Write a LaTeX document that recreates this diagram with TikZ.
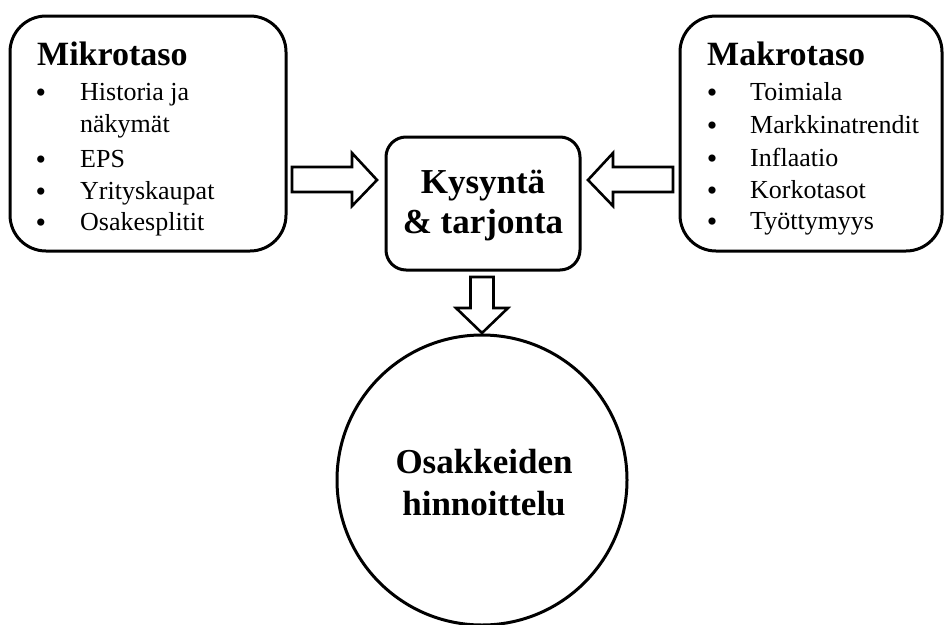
\documentclass[tikz,border=0pt]{standalone}
\usepackage{fontspec}
\setmainfont{Liberation Serif}
\begin{document}
\begin{tikzpicture}[x=1pt,y=-1pt,
  box/.style={draw,line width=3pt,rounded corners=36pt,inner sep=0pt},
  cbox/.style={draw,line width=3pt,rounded corners=20pt,inner sep=0pt,minimum width=194pt,minimum height=133pt},
  ring/.style={draw,line width=3pt,circle,inner sep=0pt,minimum size=290pt},
  blk/.style={draw,line width=2.6pt,fill=white,line join=miter},
  ttl/.style={font=\fontsize{34}{40}\selectfont\bfseries,inner sep=0pt,anchor=base west},
  ctl/.style={font=\fontsize{35}{40}\selectfont\bfseries,inner sep=0pt,anchor=base},
  itm/.style={font=\fontsize{26}{32}\selectfont,inner sep=0pt,anchor=base west},
  bul/.style={font=\fontsize{30}{32}\selectfont,inner sep=0pt,anchor=base}]
\useasboundingbox (0,0) rectangle (945,624);
% boxes
\node[box,minimum width=276pt,minimum height=235pt] (L) at (148,133.5) {};
\node[box,minimum width=262pt,minimum height=235pt] (R) at (811,133.5) {};
\node[cbox] (C) at (483,203.5) {};
\node[ring] (O) at (482,480) {};
% left texts
\node[ttl] (lt) at (37,65) {Mikrotaso};
\node[bul] (lb1) at (41,102) {•};
\node[itm] (l1) at (80,100) {Historia ja};
\node[itm] (l1b) at (80,132) {näkymät};
\node[bul] (lb2) at (41,169) {•};
\node[itm] (l2) at (80,167) {EPS};
\node[bul] (lb3) at (41,201) {•};
\node[itm] (l3) at (80,199) {Yrityskaupat};
\node[bul] (lb4) at (41,232) {•};
\node[itm] (l4) at (80,230) {Osakesplitit};
% right texts
\node[ttl] (rt) at (707,65) {Makrotaso};
\node[bul] (rb1) at (712,102) {•};
\node[itm] (r1) at (750,100) {Toimiala};
\node[bul] (rb2) at (712,135) {•};
\node[itm] (r2) at (750,133) {Markkinatrendit};
\node[bul] (rb3) at (712,168) {•};
\node[itm] (r3) at (750,166) {Inflaatio};
\node[bul] (rb4) at (712,200) {•};
\node[itm] (r4) at (750,198) {Korkotasot};
\node[bul] (rb5) at (712,231) {•};
\node[itm] (r5) at (750,229) {Työttymyys};
% center texts
\node[ctl] (c1) at (483,193) {Kysyntä};
\node[ctl] (c2) at (483,233) {\& tarjonta};
\node[ctl] (o1) at (484,473) {Osakkeiden};
\node[ctl] (o2) at (484,515) {hinnoittelu};
% block arrows
\draw[blk] (292,167) -- (352,167) -- (352,153) -- (377,180) -- (352,206) -- (352,192) -- (292,192) -- cycle;
\draw[blk] (673,167) -- (613,167) -- (613,153) -- (588,180) -- (613,206) -- (613,192) -- (673,192) -- cycle;
\draw[blk] (470.5,277) -- (493.5,277) -- (493.5,308) -- (508,308) -- (482,333) -- (456,308) -- (470.5,308) -- cycle;
\end{tikzpicture}
\end{document}
